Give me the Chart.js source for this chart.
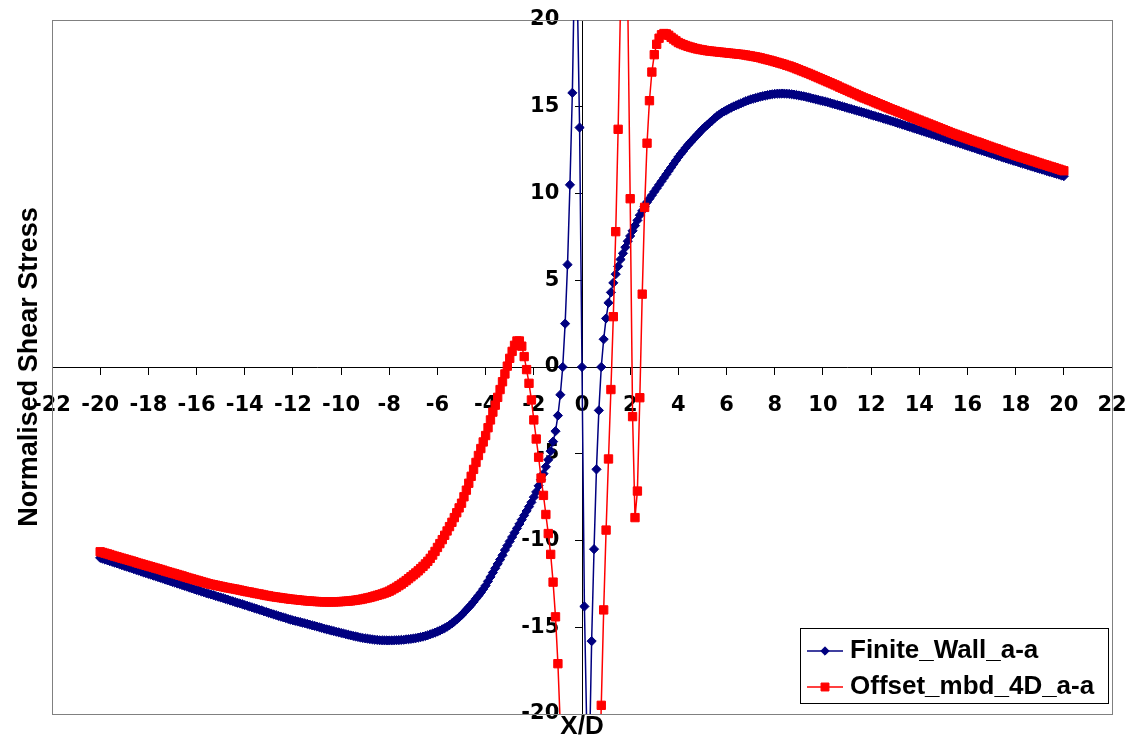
<!DOCTYPE html>
<html>
<head>
<meta charset="utf-8">
<title>Normalised Shear Stress</title>
<script src="https://cdn.jsdelivr.net/npm/chart.js@4.4.1/dist/chart.umd.min.js"></script>
<style>
  html, body { margin: 0; padding: 0; background: #fff; }
  #wrap { width: 1135px; height: 745px; position: relative; }
</style>
</head>
<body>
<div id="wrap"><canvas id="shearChart"></canvas></div>
<script>
// X/D stations, one row per unit of X/D
const xd = [
  -20, -19.9, -19.8, -19.7, -19.6, -19.5, -19.4, -19.3, -19.2, -19.1,
  -19, -18.9, -18.8, -18.7, -18.6, -18.5, -18.4, -18.3, -18.2, -18.1,
  -18, -17.9, -17.8, -17.7, -17.6, -17.5, -17.4, -17.3, -17.2, -17.1,
  -17, -16.9, -16.8, -16.7, -16.6, -16.5, -16.4, -16.3, -16.2, -16.1,
  -16, -15.9, -15.8, -15.7, -15.6, -15.5, -15.4, -15.3, -15.2, -15.1,
  -15, -14.9, -14.8, -14.7, -14.6, -14.5, -14.4, -14.3, -14.2, -14.1,
  -14, -13.9, -13.8, -13.7, -13.6, -13.5, -13.4, -13.3, -13.2, -13.1,
  -13, -12.9, -12.8, -12.7, -12.6, -12.5, -12.4, -12.3, -12.2, -12.1,
  -12, -11.9, -11.8, -11.7, -11.6, -11.5, -11.4, -11.3, -11.2, -11.1,
  -11, -10.9, -10.8, -10.7, -10.6, -10.5, -10.4, -10.3, -10.2, -10.1,
  -10, -9.9, -9.8, -9.7, -9.6, -9.5, -9.4, -9.3, -9.2, -9.1,
  -9, -8.9, -8.8, -8.7, -8.6, -8.5, -8.4, -8.3, -8.2, -8.1,
  -8, -7.9, -7.8, -7.7, -7.6, -7.5, -7.4, -7.3, -7.2, -7.1,
  -7, -6.9, -6.8, -6.7, -6.6, -6.5, -6.4, -6.3, -6.2, -6.1,
  -6, -5.9, -5.8, -5.7, -5.6, -5.5, -5.4, -5.3, -5.2, -5.1,
  -5, -4.9, -4.8, -4.7, -4.6, -4.5, -4.4, -4.3, -4.2, -4.1,
  -4, -3.9, -3.8, -3.7, -3.6, -3.5, -3.4, -3.3, -3.2, -3.1,
  -3, -2.9, -2.8, -2.7, -2.6, -2.5, -2.4, -2.3, -2.2, -2.1,
  -2, -1.9, -1.8, -1.7, -1.6, -1.5, -1.4, -1.3, -1.2, -1.1,
  -1, -0.9, -0.8, -0.7, -0.6, -0.5, -0.4, -0.3, -0.2, -0.1,
  0, 0.1, 0.2, 0.3, 0.4, 0.5, 0.6, 0.7, 0.8, 0.9,
  1, 1.1, 1.2, 1.3, 1.4, 1.5, 1.6, 1.7, 1.8, 1.9,
  2, 2.1, 2.2, 2.3, 2.4, 2.5, 2.6, 2.7, 2.8, 2.9,
  3, 3.1, 3.2, 3.3, 3.4, 3.5, 3.6, 3.7, 3.8, 3.9,
  4, 4.1, 4.2, 4.3, 4.4, 4.5, 4.6, 4.7, 4.8, 4.9,
  5, 5.1, 5.2, 5.3, 5.4, 5.5, 5.6, 5.7, 5.8, 5.9,
  6, 6.1, 6.2, 6.3, 6.4, 6.5, 6.6, 6.7, 6.8, 6.9,
  7, 7.1, 7.2, 7.3, 7.4, 7.5, 7.6, 7.7, 7.8, 7.9,
  8, 8.1, 8.2, 8.3, 8.4, 8.5, 8.6, 8.7, 8.8, 8.9,
  9, 9.1, 9.2, 9.3, 9.4, 9.5, 9.6, 9.7, 9.8, 9.9,
  10, 10.1, 10.2, 10.3, 10.4, 10.5, 10.6, 10.7, 10.8, 10.9,
  11, 11.1, 11.2, 11.3, 11.4, 11.5, 11.6, 11.7, 11.8, 11.9,
  12, 12.1, 12.2, 12.3, 12.4, 12.5, 12.6, 12.7, 12.8, 12.9,
  13, 13.1, 13.2, 13.3, 13.4, 13.5, 13.6, 13.7, 13.8, 13.9,
  14, 14.1, 14.2, 14.3, 14.4, 14.5, 14.6, 14.7, 14.8, 14.9,
  15, 15.1, 15.2, 15.3, 15.4, 15.5, 15.6, 15.7, 15.8, 15.9,
  16, 16.1, 16.2, 16.3, 16.4, 16.5, 16.6, 16.7, 16.8, 16.9,
  17, 17.1, 17.2, 17.3, 17.4, 17.5, 17.6, 17.7, 17.8, 17.9,
  18, 18.1, 18.2, 18.3, 18.4, 18.5, 18.6, 18.7, 18.8, 18.9,
  19, 19.1, 19.2, 19.3, 19.4, 19.5, 19.6, 19.7, 19.8, 19.9,
  20
];

// Finite_Wall_a-a, same rows as xd
const finiteWall = [
  -11.0, -11.05, -11.1, -11.14, -11.19, -11.23, -11.28, -11.32, -11.37, -11.42,
  -11.47, -11.51, -11.56, -11.6, -11.65, -11.7, -11.74, -11.79, -11.84, -11.88,
  -11.93, -11.97, -12.02, -12.06, -12.11, -12.15, -12.2, -12.25, -12.3, -12.34,
  -12.39, -12.43, -12.48, -12.52, -12.57, -12.61, -12.66, -12.71, -12.76, -12.8,
  -12.85, -12.89, -12.94, -12.98, -13.03, -13.07, -13.11, -13.15, -13.2, -13.24,
  -13.28, -13.32, -13.37, -13.41, -13.46, -13.5, -13.55, -13.59, -13.63, -13.67,
  -13.72, -13.76, -13.81, -13.85, -13.9, -13.94, -13.99, -14.03, -14.08, -14.12,
  -14.17, -14.21, -14.26, -14.3, -14.35, -14.39, -14.43, -14.47, -14.52, -14.56,
  -14.6, -14.63, -14.67, -14.7, -14.74, -14.77, -14.81, -14.85, -14.89, -14.92,
  -14.96, -15.0, -15.04, -15.08, -15.12, -15.15, -15.19, -15.22, -15.26, -15.29,
  -15.33, -15.36, -15.4, -15.43, -15.47, -15.5, -15.53, -15.56, -15.59, -15.62,
  -15.64, -15.66, -15.68, -15.7, -15.72, -15.73, -15.75, -15.75, -15.76, -15.76,
  -15.76, -15.76, -15.75, -15.75, -15.74, -15.73, -15.72, -15.7, -15.69, -15.67,
  -15.65, -15.63, -15.6, -15.57, -15.54, -15.5, -15.46, -15.41, -15.36, -15.31,
  -15.25, -15.19, -15.12, -15.05, -14.97, -14.88, -14.78, -14.67, -14.55, -14.43,
  -14.3, -14.15, -14.0, -13.85, -13.7, -13.53, -13.35, -13.18, -13.0, -12.8,
  -12.6, -12.35, -12.1, -11.85, -11.6, -11.35, -11.1, -10.85, -10.55, -10.3,
  -10.05, -9.8, -9.55, -9.3, -9.05, -8.8, -8.55, -8.3, -8.05, -7.8,
  -7.5, -7.2, -6.85, -6.5, -6.15, -5.75, -5.35, -4.85, -4.3, -3.7,
  -2.8, -1.6, 0, 2.5, 5.9, 10.5, 15.8, 24, 22, 13.8,
  0, -13.8, -21, -23, -15.8, -10.5, -5.9, -2.5, 0, 1.6,
  2.8, 3.7, 4.3, 4.85, 5.35, 5.8, 6.2, 6.55, 6.9, 7.25,
  7.55, 7.85, 8.15, 8.45, 8.75, 9.0, 9.25, 9.5, 9.7, 9.9,
  10.1, 10.3, 10.5, 10.7, 10.9, 11.1, 11.3, 11.5, 11.7, 11.9,
  12.1, 12.28, 12.45, 12.63, 12.8, 12.95, 13.1, 13.25, 13.4, 13.55,
  13.7, 13.83, 13.95, 14.08, 14.2, 14.33, 14.45, 14.55, 14.65, 14.73,
  14.8, 14.88, 14.95, 15.02, 15.08, 15.14, 15.2, 15.26, 15.32, 15.37,
  15.42, 15.46, 15.5, 15.54, 15.58, 15.61, 15.64, 15.67, 15.7, 15.72,
  15.74, 15.75, 15.76, 15.76, 15.76, 15.75, 15.74, 15.72, 15.7, 15.68,
  15.65, 15.63, 15.6, 15.57, 15.54, 15.5, 15.47, 15.43, 15.4, 15.36,
  15.33, 15.3, 15.26, 15.22, 15.18, 15.14, 15.1, 15.06, 15.02, 14.98,
  14.94, 14.9, 14.86, 14.82, 14.78, 14.74, 14.7, 14.66, 14.62, 14.57,
  14.53, 14.49, 14.45, 14.41, 14.37, 14.32, 14.28, 14.24, 14.2, 14.15,
  14.11, 14.06, 14.02, 13.97, 13.93, 13.88, 13.84, 13.79, 13.75, 13.7,
  13.66, 13.61, 13.57, 13.52, 13.48, 13.43, 13.39, 13.34, 13.3, 13.25,
  13.2, 13.15, 13.11, 13.06, 13.02, 12.97, 12.93, 12.88, 12.84, 12.79,
  12.75, 12.7, 12.65, 12.61, 12.56, 12.52, 12.47, 12.43, 12.38, 12.34,
  12.29, 12.25, 12.2, 12.16, 12.11, 12.07, 12.02, 11.98, 11.94, 11.89,
  11.85, 11.81, 11.76, 11.72, 11.68, 11.63, 11.59, 11.55, 11.5, 11.46,
  11.42, 11.38, 11.34, 11.29, 11.25, 11.21, 11.17, 11.13, 11.09, 11.04,
  11.0
];

// Offset_mbd_4D_a-a, same rows as xd
const offsetMbd = [
  -10.65, -10.69, -10.73, -10.77, -10.81, -10.86, -10.9, -10.94, -10.98, -11.02,
  -11.06, -11.1, -11.14, -11.18, -11.22, -11.27, -11.31, -11.35, -11.39, -11.43,
  -11.47, -11.51, -11.55, -11.59, -11.63, -11.67, -11.71, -11.76, -11.8, -11.84,
  -11.88, -11.92, -11.96, -12.0, -12.04, -12.09, -12.13, -12.17, -12.21, -12.25,
  -12.29, -12.33, -12.37, -12.41, -12.45, -12.49, -12.52, -12.55, -12.58, -12.61,
  -12.64, -12.67, -12.7, -12.73, -12.75, -12.78, -12.8, -12.83, -12.86, -12.89,
  -12.92, -12.95, -12.97, -13.0, -13.03, -13.06, -13.08, -13.11, -13.14, -13.17,
  -13.19, -13.22, -13.24, -13.26, -13.28, -13.3, -13.32, -13.34, -13.36, -13.38,
  -13.39, -13.41, -13.42, -13.44, -13.45, -13.47, -13.48, -13.49, -13.5, -13.51,
  -13.52, -13.53, -13.53, -13.54, -13.54, -13.54, -13.54, -13.54, -13.53, -13.53,
  -13.52, -13.51, -13.5, -13.49, -13.48, -13.46, -13.44, -13.42, -13.4, -13.37,
  -13.34, -13.31, -13.28, -13.24, -13.2, -13.16, -13.12, -13.08, -13.03, -12.98,
  -12.92, -12.85, -12.77, -12.69, -12.6, -12.51, -12.41, -12.31, -12.2, -12.09,
  -11.98, -11.87, -11.75, -11.62, -11.49, -11.35, -11.2, -11.03, -10.84, -10.63,
  -10.4, -10.18, -9.95, -9.7, -9.45, -9.2, -8.95, -8.68, -8.4, -8.12,
  -7.85, -7.48, -7.1, -6.7, -6.3, -5.9, -5.5, -5.1, -4.7, -4.32,
  -3.95, -3.5, -3.05, -2.6, -2.2, -1.75, -1.3, -0.85, -0.4, 0.05,
  0.5, 0.9, 1.25, 1.5, 1.5, 1.2, 0.6, -0.15, -0.94, -1.9,
  -3.05, -4.15, -5.2, -6.4, -7.4, -8.5, -9.6, -10.8, -12.4, -14.4,
  -17.1, -20.7, -24, -27, -29, -31, -32, -33, -33, -33,
  -32, -31, -30, -29, -28, -27, -26, -25, -19.5, -14.0,
  -9.4, -5.3, -1.3, 2.9, 7.8, 13.7, 21, 25, 25, 21,
  9.7, -2.86, -8.68, -7.15, -1.77, 4.2, 9.2, 12.9, 15.35, 17.0,
  18.0, 18.6, 18.95, 19.15, 19.22, 19.2, 19.12, 19.0, 18.9, 18.8,
  18.7, 18.64, 18.58, 18.53, 18.48, 18.44, 18.4, 18.36, 18.33, 18.3,
  18.28, 18.25, 18.23, 18.21, 18.2, 18.18, 18.17, 18.15, 18.14, 18.12,
  18.11, 18.09, 18.08, 18.06, 18.05, 18.03, 18.02, 18.0, 17.98, 17.95,
  17.93, 17.9, 17.88, 17.85, 17.82, 17.78, 17.75, 17.71, 17.68, 17.64,
  17.6, 17.56, 17.52, 17.48, 17.44, 17.39, 17.35, 17.3, 17.25, 17.19,
  17.14, 17.08, 17.03, 16.97, 16.92, 16.86, 16.8, 16.74, 16.68, 16.62,
  16.56, 16.5, 16.44, 16.38, 16.32, 16.26, 16.2, 16.13, 16.07, 16.01,
  15.95, 15.88, 15.82, 15.76, 15.7, 15.63, 15.57, 15.51, 15.46, 15.4,
  15.35, 15.29, 15.23, 15.17, 15.12, 15.06, 15.0, 14.94, 14.88, 14.83,
  14.78, 14.72, 14.67, 14.61, 14.56, 14.5, 14.45, 14.39, 14.34, 14.28,
  14.23, 14.17, 14.12, 14.06, 14.01, 13.95, 13.9, 13.84, 13.79, 13.73,
  13.68, 13.62, 13.57, 13.51, 13.46, 13.41, 13.36, 13.31, 13.26, 13.21,
  13.16, 13.11, 13.06, 13.01, 12.97, 12.92, 12.87, 12.82, 12.77, 12.72,
  12.67, 12.62, 12.58, 12.53, 12.48, 12.43, 12.38, 12.33, 12.29, 12.24,
  12.19, 12.15, 12.1, 12.06, 12.02, 11.97, 11.93, 11.88, 11.84, 11.79,
  11.75, 11.7, 11.66, 11.62, 11.57, 11.53, 11.49, 11.44, 11.4, 11.35,
  11.31
];

const xRange = [-22, 22];
const yRange = [-20, 20];

const FONT = "'Liberation Sans', Arial, sans-serif";
const TICK_FONT = "'DejaVu Sans', 'Liberation Sans', sans-serif";

const toPoints = ys => xd.map((x, i) => ({ x: x, y: ys[i] }));

// white page and the grey frame round the plot area
const plotFrame = {
    id: 'plotFrame',
    beforeDraw(chart) {
        const ctx = chart.ctx;
        ctx.save();
        ctx.fillStyle = '#ffffff';
        ctx.fillRect(0, 0, chart.width, chart.height);
        ctx.restore();
    },
    beforeDatasetsDraw(chart) {
        const { ctx, chartArea: a } = chart;
        ctx.save();
        ctx.strokeStyle = '#808080';
        ctx.lineWidth = 1;
        ctx.strokeRect(Math.round(a.left) + 0.5, Math.round(a.top) + 0.5,
            Math.round(a.right - a.left), Math.round(a.bottom - a.top));
        ctx.restore();
    }
};

// boxed legend sitting inside the plot, bottom right
const boxLegend = {
    id: 'boxLegend',
    afterDraw(chart, args, opts) {
        const ctx = chart.ctx;
        ctx.save();
        ctx.fillStyle = '#ffffff';
        ctx.fillRect(opts.left, opts.top, opts.width, opts.height);
        ctx.strokeStyle = '#000000';
        ctx.lineWidth = 1;
        ctx.strokeRect(opts.left + 0.5, opts.top + 0.5, opts.width, opts.height);
        ctx.font = 'bold ' + opts.fontSize + 'px ' + FONT;
        ctx.textBaseline = 'middle';
        ctx.textAlign = 'left';
        chart.data.datasets.forEach((ds, i) => {
            const y = opts.top + opts.firstRow + i * opts.rowGap;
            const x0 = opts.left + 7;
            const x1 = opts.left + 43;
            ctx.strokeStyle = ds.borderColor;
            ctx.lineWidth = ds.borderWidth;
            ctx.beginPath();
            ctx.moveTo(x0, y);
            ctx.lineTo(x1, y);
            ctx.stroke();
            ctx.fillStyle = ds.backgroundColor;
            ctx.lineWidth = 1;
            Chart.helpers.drawPoint(ctx, {
                pointStyle: ds.pointStyle, radius: ds.legendRadius, borderWidth: 1, rotation: 0
            }, (x0 + x1) / 2, y);
            ctx.fillStyle = '#000000';
            ctx.fillText(ds.label, opts.left + 50, y);
        });
        ctx.restore();
    }
};

// x labels sit well below the axis, y labels keep a small line height so
// they do not push the plot area down
const xTickFont = { family: TICK_FONT, size: 21, weight: 'bold', lineHeight: 2.57 };
const yTickFont = { family: TICK_FONT, size: 21, weight: 'bold', lineHeight: 0.3 };

const ctx = document.getElementById('shearChart').getContext('2d');
const shearChart = new Chart(ctx, {
    type: 'scatter',
    data: {
        datasets: [{
            label: 'Finite_Wall_a-a',
            data: toPoints(finiteWall),
            xAxisID: 'x',
            yAxisID: 'y',
            showLine: true,
            borderColor: '#000080',
            backgroundColor: '#000080',
            borderWidth: 1.5,
            pointStyle: 'rectRot',
            pointRadius: 4.6,
            pointBorderWidth: 1,
            legendRadius: 4.2,
            order: 1
        }, {
            label: 'Offset_mbd_4D_a-a',
            data: toPoints(offsetMbd),
            xAxisID: 'x',
            yAxisID: 'y',
            showLine: true,
            borderColor: '#ff0000',
            backgroundColor: '#ff0000',
            borderWidth: 1.5,
            pointStyle: 'rect',
            pointRadius: 5.9,
            pointBorderWidth: 1,
            legendRadius: 5.6,
            order: 0
        }]
    },
    options: {
        responsive: true,
        maintainAspectRatio: false,
        animation: false,
        layout: { padding: { left: 16.5, right: 23, top: 20, bottom: 5 } },
        plugins: {
            legend: { display: false },
            tooltip: { enabled: false },
            boxLegend: { left: 800, top: 628, width: 308, height: 75, firstRow: 23, rowGap: 36, fontSize: 26 }
        },
        scales: {
            x: {
                type: 'linear',
                position: 'center',
                min: xRange[0],
                max: xRange[1],
                ticks: { stepSize: 2, padding: 5, color: '#000000', font: xTickFont },
                grid: { drawOnChartArea: false, tickLength: 7, color: '#000000' },
                border: { color: '#000000', width: 1 }
            },
            y: {
                type: 'linear',
                position: 'center',
                min: yRange[0],
                max: yRange[1],
                ticks: { stepSize: 5, padding: 15.7, color: '#000000', font: yTickFont },
                grid: { drawOnChartArea: false, tickLength: 7, color: '#000000' },
                border: { color: '#000000', width: 1 }
            },
            xTitle: {
                type: 'linear',
                axis: 'x',
                position: 'bottom',
                display: true,
                ticks: { display: false },
                grid: { display: false, drawTicks: false },
                border: { display: false },
                title: {
                    display: true, text: 'X/D', color: '#000000',
                    font: { family: FONT, size: 26, weight: 'bold', lineHeight: 1 },
                    padding: { top: 0, bottom: 0 }
                }
            },
            yTitle: {
                type: 'linear',
                axis: 'y',
                position: 'left',
                display: true,
                ticks: { display: false },
                grid: { display: false, drawTicks: false },
                border: { display: false },
                title: {
                    display: true, text: 'Normalised Shear Stress', color: '#000000',
                    font: { family: FONT, size: 27, weight: 'bold', lineHeight: 1 },
                    padding: { top: 0, bottom: 8.5 }
                }
            }
        }
    },
    plugins: [plotFrame, boxLegend]
});
</script>
</body>
</html>
